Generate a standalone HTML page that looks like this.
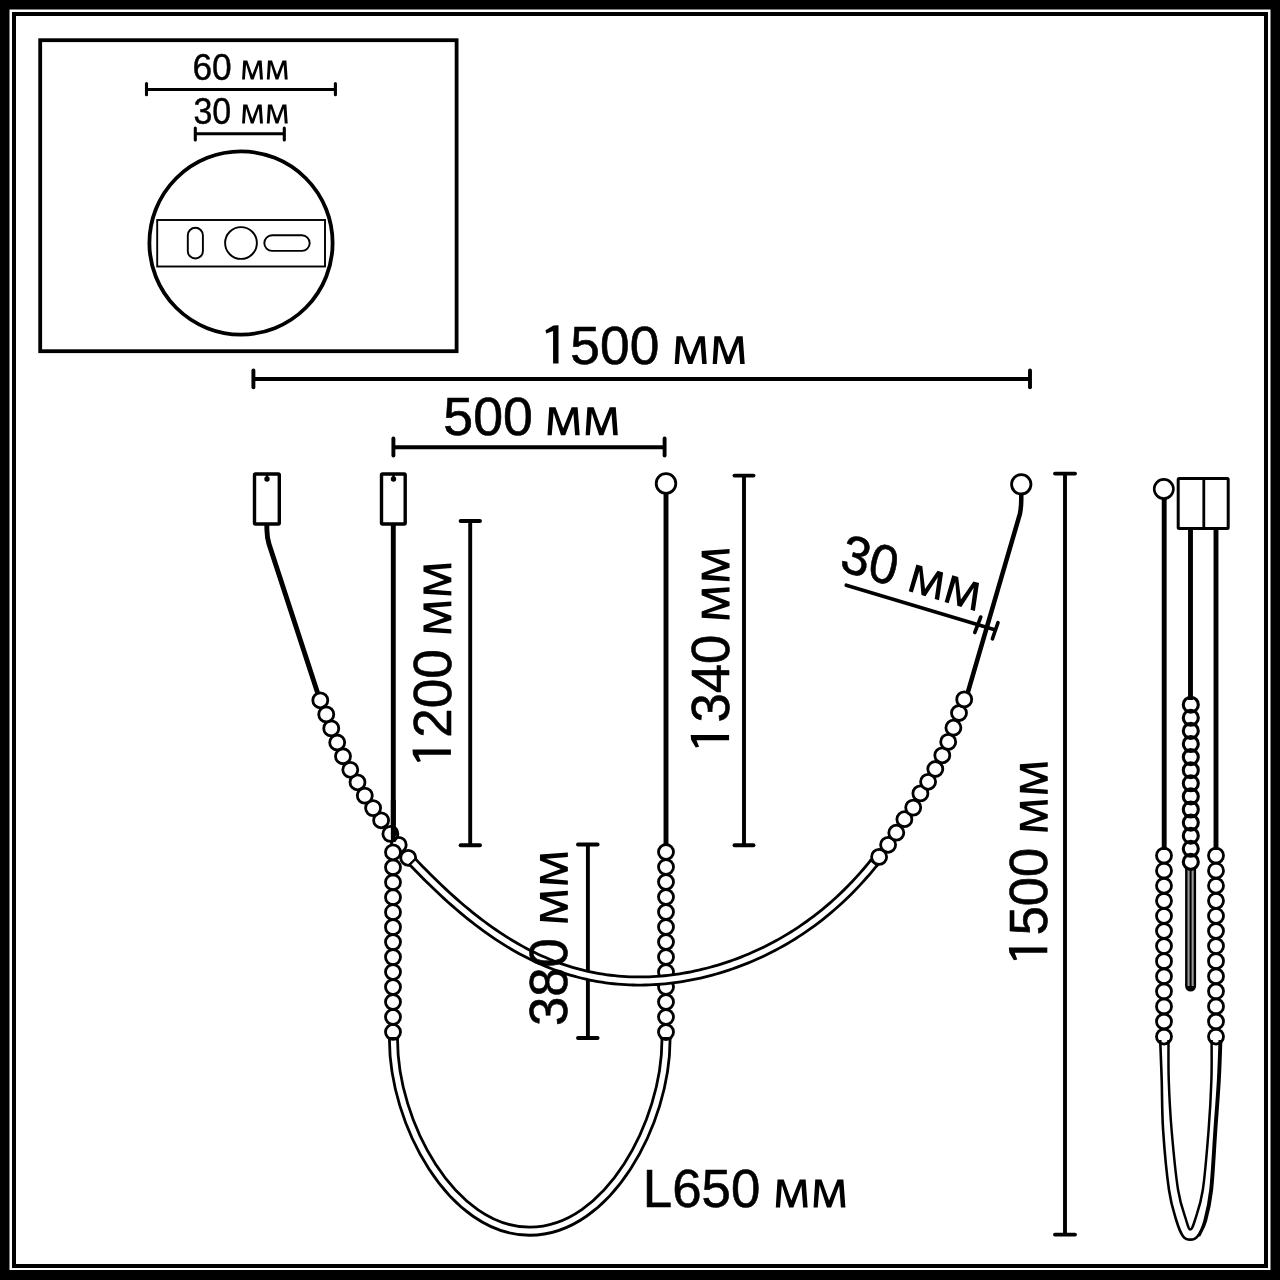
<!DOCTYPE html>
<html><head><meta charset="utf-8"><style>
html,body{margin:0;padding:0;background:#fff;}
svg{display:block;}
text{font-family:"Liberation Sans",sans-serif;fill:#000;stroke:#000;}
svg{will-change:transform;}
</style></head><body>
<svg width="1280" height="1280" viewBox="0 0 1280 1280" stroke="#000" fill="#000">
<rect x="0" y="0" width="1280" height="1280" fill="#000" stroke="none"/>
<rect x="9.5" y="9.5" width="1261" height="1260.5" fill="#fff" stroke="none"/>
<rect x="14" y="14" width="1252" height="1252" fill="none" stroke-width="4"/>
<rect x="40.2" y="40.2" width="416.4" height="311" fill="none" stroke-width="3.8"/>
<line x1="146.50" y1="89.50" x2="335.40" y2="89.50" stroke-width="3.1" stroke-linecap="butt"/>
<line x1="146.50" y1="83.50" x2="146.50" y2="94.80" stroke-width="3.1" stroke-linecap="round"/>
<line x1="335.40" y1="83.50" x2="335.40" y2="94.80" stroke-width="3.1" stroke-linecap="round"/>
<line x1="195.30" y1="133.70" x2="284.30" y2="133.70" stroke-width="3.1" stroke-linecap="butt"/>
<line x1="195.30" y1="128.00" x2="195.30" y2="140.00" stroke-width="3.1" stroke-linecap="round"/>
<line x1="284.30" y1="128.00" x2="284.30" y2="140.00" stroke-width="3.1" stroke-linecap="round"/>
<circle cx="241" cy="243" r="91.6" fill="none" stroke-width="3.8"/>
<rect x="157.2" y="220" width="167.8" height="46.5" fill="none" stroke-width="1.9"/>
<rect x="187.8" y="227.8" width="15.1" height="30.7" rx="7.55" fill="none" stroke-width="1.9"/>
<circle cx="241" cy="243" r="15.9" fill="none" stroke-width="1.9"/>
<rect x="264.3" y="235.3" width="45.4" height="15.6" rx="7.8" fill="none" stroke-width="1.9"/>
<g transform="translate(0.00,79.60)"><text x="192.41" y="0" font-size="37.6" textLength="39.27" lengthAdjust="spacingAndGlyphs" stroke-width="0.4">60</text><polygon points="242.10,0.00 243.22,-19.00 247.29,-19.00 252.28,-4.75 257.77,-19.00 261.64,-19.00 262.97,0.00 260.01,0.00 258.89,-14.90 253.60,0.00 250.86,0.00 246.07,-15.33 244.85,0.00" stroke="none"/><polygon points="266.83,0.00 267.96,-19.00 272.03,-19.00 277.02,-4.75 282.51,-19.00 286.38,-19.00 287.70,0.00 284.75,0.00 283.63,-14.90 278.34,0.00 275.59,0.00 270.80,-15.33 269.58,0.00" stroke="none"/></g>
<g transform="translate(0.00,123.50)"><text x="193.40" y="0" font-size="37.6" textLength="37.82" lengthAdjust="spacingAndGlyphs" stroke-width="0.4">30</text><polygon points="242.10,0.00 243.22,-19.00 247.29,-19.00 252.28,-4.75 257.77,-19.00 261.64,-19.00 262.97,0.00 260.01,0.00 258.89,-14.90 253.60,0.00 250.86,0.00 246.07,-15.33 244.85,0.00" stroke="none"/><polygon points="266.83,0.00 267.96,-19.00 272.03,-19.00 277.02,-4.75 282.51,-19.00 286.38,-19.00 287.70,0.00 284.75,0.00 283.63,-14.90 278.34,0.00 275.59,0.00 270.80,-15.33 269.58,0.00" stroke="none"/></g>
<line x1="253.40" y1="379.00" x2="1030.00" y2="379.00" stroke-width="3.9" stroke-linecap="butt"/>
<line x1="253.40" y1="370.50" x2="253.40" y2="387.30" stroke-width="3.9" stroke-linecap="round"/>
<line x1="1030.00" y1="370.50" x2="1030.00" y2="387.30" stroke-width="3.9" stroke-linecap="round"/>
<line x1="393.40" y1="447.30" x2="664.60" y2="447.30" stroke-width="3.9" stroke-linecap="butt"/>
<line x1="393.40" y1="438.50" x2="393.40" y2="455.50" stroke-width="3.9" stroke-linecap="round"/>
<line x1="664.60" y1="438.50" x2="664.60" y2="455.50" stroke-width="3.9" stroke-linecap="round"/>
<line x1="470.20" y1="521.00" x2="470.20" y2="845.30" stroke-width="3.9" stroke-linecap="butt"/>
<line x1="460.60" y1="521.00" x2="480.00" y2="521.00" stroke-width="3.9" stroke-linecap="round"/>
<line x1="460.60" y1="845.30" x2="480.00" y2="845.30" stroke-width="3.9" stroke-linecap="round"/>
<line x1="744.00" y1="475.60" x2="744.00" y2="845.30" stroke-width="3.9" stroke-linecap="butt"/>
<line x1="734.50" y1="475.60" x2="753.50" y2="475.60" stroke-width="3.9" stroke-linecap="round"/>
<line x1="734.50" y1="845.30" x2="753.50" y2="845.30" stroke-width="3.9" stroke-linecap="round"/>
<line x1="587.90" y1="844.50" x2="587.90" y2="1038.00" stroke-width="3.9" stroke-linecap="butt"/>
<line x1="578.00" y1="844.50" x2="597.60" y2="844.50" stroke-width="3.9" stroke-linecap="round"/>
<line x1="578.00" y1="1038.00" x2="597.60" y2="1038.00" stroke-width="3.9" stroke-linecap="round"/>
<line x1="1065.00" y1="473.60" x2="1065.00" y2="1234.60" stroke-width="3.9" stroke-linecap="butt"/>
<line x1="1055.00" y1="473.60" x2="1075.00" y2="473.60" stroke-width="3.9" stroke-linecap="round"/>
<line x1="1055.00" y1="1234.60" x2="1075.00" y2="1234.60" stroke-width="3.9" stroke-linecap="round"/>
<rect x="254.5" y="474" width="24.80000000000001" height="50" fill="#fff" stroke-width="3.4" rx="1"/>
<circle cx="267" cy="479" r="2.7" stroke="none"/><rect x="265.8" y="475" width="2.4" height="3" stroke="none"/>
<rect x="381.5" y="474" width="23.69999999999999" height="50" fill="#fff" stroke-width="3.4" rx="1"/>
<circle cx="393.5" cy="479" r="2.7" stroke="none"/><rect x="392.3" y="475" width="2.4" height="3" stroke="none"/>
<path d="M266.8,524 L266.9,530 Q267.1,538 269,544 L317.5,692.5" fill="none" stroke-width="4.9"/>
<line x1="393.30" y1="525.00" x2="393.30" y2="843.00" stroke-width="4.9" stroke-linecap="butt"/>
<line x1="666.00" y1="494.00" x2="666.00" y2="846.00" stroke-width="4.9" stroke-linecap="butt"/>
<circle cx="666" cy="483.5" r="9.8" fill="#fff" stroke-width="2.8"/>
<path d="M1021.25,494 L1021.25,500 Q1021.25,507 1019.9,514 L967.8,692.5" fill="none" stroke-width="4.5"/>
<circle cx="1021.25" cy="484.3" r="9.7" fill="#fff" stroke-width="2.8"/>
<path d="M393.5,1037.5 L393.5,1040 C393.5,1122.4 451.3,1231.2 529.75,1231.2 C608.2,1231.2 666,1122.4 666,1040 L666,1037.5" fill="none" stroke-width="10.9" stroke-linecap="butt"/>
<path d="M393.5,1037.5 L393.5,1040 C393.5,1122.4 451.3,1231.2 529.75,1231.2 C608.2,1231.2 666,1122.4 666,1040 L666,1037.5" fill="none" stroke="#fff" stroke-width="5.3" stroke-linecap="butt"/>
<circle cx="398.70" cy="844.90" r="7.5" fill="#fff" stroke-width="2.8"/>
<circle cx="390.40" cy="833.90" r="7.5" fill="#fff" stroke-width="2.8"/>
<circle cx="381.10" cy="820.30" r="7.5" fill="#fff" stroke-width="2.8"/>
<circle cx="373.10" cy="808.10" r="7.5" fill="#fff" stroke-width="2.8"/>
<circle cx="364.80" cy="795.60" r="7.5" fill="#fff" stroke-width="2.8"/>
<circle cx="357.50" cy="782.30" r="7.5" fill="#fff" stroke-width="2.8"/>
<circle cx="350.30" cy="769.80" r="7.5" fill="#fff" stroke-width="2.8"/>
<circle cx="343.00" cy="756.25" r="7.5" fill="#fff" stroke-width="2.8"/>
<circle cx="337.20" cy="742.50" r="7.5" fill="#fff" stroke-width="2.8"/>
<circle cx="331.25" cy="728.40" r="7.5" fill="#fff" stroke-width="2.8"/>
<circle cx="326.25" cy="714.40" r="7.5" fill="#fff" stroke-width="2.8"/>
<circle cx="320.30" cy="700.30" r="7.5" fill="#fff" stroke-width="2.8"/>
<circle cx="393.00" cy="1031.94" r="7.5" fill="none" stroke-width="2.8"/>
<circle cx="393.00" cy="1016.97" r="7.5" fill="none" stroke-width="2.8"/>
<circle cx="393.00" cy="1002.00" r="7.5" fill="none" stroke-width="2.8"/>
<circle cx="393.00" cy="987.03" r="7.5" fill="none" stroke-width="2.8"/>
<circle cx="393.00" cy="972.06" r="7.5" fill="none" stroke-width="2.8"/>
<circle cx="393.00" cy="957.09" r="7.5" fill="none" stroke-width="2.8"/>
<circle cx="393.00" cy="942.12" r="7.5" fill="none" stroke-width="2.8"/>
<circle cx="393.00" cy="927.15" r="7.5" fill="none" stroke-width="2.8"/>
<circle cx="393.00" cy="912.18" r="7.5" fill="none" stroke-width="2.8"/>
<circle cx="393.00" cy="897.21" r="7.5" fill="none" stroke-width="2.8"/>
<circle cx="393.00" cy="882.24" r="7.5" fill="none" stroke-width="2.8"/>
<circle cx="393.00" cy="867.27" r="7.5" fill="none" stroke-width="2.8"/>
<circle cx="393.00" cy="852.30" r="7.5" fill="#fff" stroke-width="2.8"/>
<circle cx="408.20" cy="857.80" r="7.5" fill="#fff" stroke-width="2.8"/>
<circle cx="879.10" cy="856.90" r="7.5" fill="#fff" stroke-width="2.8"/>
<circle cx="888.10" cy="844.80" r="7.5" fill="#fff" stroke-width="2.8"/>
<circle cx="896.30" cy="832.70" r="7.5" fill="#fff" stroke-width="2.8"/>
<circle cx="904.40" cy="819.20" r="7.5" fill="#fff" stroke-width="2.8"/>
<circle cx="913.20" cy="807.60" r="7.5" fill="#fff" stroke-width="2.8"/>
<circle cx="920.40" cy="793.40" r="7.5" fill="#fff" stroke-width="2.8"/>
<circle cx="928.10" cy="781.80" r="7.5" fill="#fff" stroke-width="2.8"/>
<circle cx="935.30" cy="769.00" r="7.5" fill="#fff" stroke-width="2.8"/>
<circle cx="942.30" cy="755.30" r="7.5" fill="#fff" stroke-width="2.8"/>
<circle cx="948.20" cy="741.90" r="7.5" fill="#fff" stroke-width="2.8"/>
<circle cx="953.40" cy="727.70" r="7.5" fill="#fff" stroke-width="2.8"/>
<circle cx="959.00" cy="713.00" r="7.5" fill="#fff" stroke-width="2.8"/>
<circle cx="964.20" cy="699.40" r="7.5" fill="#fff" stroke-width="2.8"/>
<circle cx="666.00" cy="852.00" r="7.5" fill="none" stroke-width="2.8"/>
<circle cx="666.00" cy="867.00" r="7.5" fill="none" stroke-width="2.8"/>
<circle cx="666.00" cy="882.00" r="7.5" fill="none" stroke-width="2.8"/>
<circle cx="666.00" cy="897.00" r="7.5" fill="none" stroke-width="2.8"/>
<circle cx="666.00" cy="912.00" r="7.5" fill="none" stroke-width="2.8"/>
<circle cx="666.00" cy="927.00" r="7.5" fill="none" stroke-width="2.8"/>
<circle cx="666.00" cy="942.00" r="7.5" fill="none" stroke-width="2.8"/>
<circle cx="666.00" cy="957.00" r="7.5" fill="none" stroke-width="2.8"/>
<circle cx="666.00" cy="972.00" r="7.5" fill="none" stroke-width="2.8"/>
<circle cx="666.00" cy="987.00" r="7.5" fill="none" stroke-width="2.8"/>
<circle cx="666.00" cy="1002.00" r="7.5" fill="none" stroke-width="2.8"/>
<circle cx="666.00" cy="1017.00" r="7.5" fill="none" stroke-width="2.8"/>
<circle cx="666.00" cy="1032.00" r="7.5" fill="none" stroke-width="2.8"/>
<line x1="388.05" y1="1038.20" x2="398.95" y2="1038.20" stroke-width="2.4" stroke-linecap="butt"/>
<line x1="660.55" y1="1038.20" x2="671.45" y2="1038.20" stroke-width="2.4" stroke-linecap="butt"/>
<line x1="393.30" y1="800.00" x2="393.30" y2="842.00" stroke-width="4.9" stroke-linecap="butt"/>
<ellipse cx="394.6" cy="831.5" rx="3.6" ry="4.2" stroke="none"/>
<path d="M411.90,861.12 L415.79,865.20 L419.68,869.22 L423.56,873.18 L427.45,877.08 L431.34,880.92 L435.23,884.70 L439.12,888.42 L443.01,892.07 L446.89,895.66 L450.78,899.17 L454.67,902.62 L458.56,906.00 L462.45,909.30 L466.34,912.54 L470.22,915.70 L474.11,918.78 L478.00,921.80 L481.89,924.73 L485.78,927.59 L489.66,930.38 L493.55,933.09 L497.44,935.72 L501.33,938.27 L505.22,940.75 L509.11,943.15 L512.99,945.48 L516.88,947.72 L520.77,949.89 L524.66,951.98 L528.55,954.00 L532.44,955.94 L536.32,957.80 L540.21,959.59 L544.10,961.30 L547.99,962.93 L551.88,964.49 L555.76,965.98 L559.65,967.39 L563.54,968.73 L567.43,969.99 L571.32,971.18 L575.21,972.31 L579.09,973.36 L582.98,974.34 L586.87,975.24 L590.76,976.09 L594.65,976.86 L598.54,977.56 L602.42,978.20 L606.31,978.77 L610.20,979.27 L614.09,979.71 L617.98,980.09 L621.86,980.40 L625.75,980.65 L629.64,980.83 L633.53,980.96 L637.42,981.02 L641.31,981.02 L645.19,980.97 L649.08,980.85 L652.97,980.67 L656.86,980.44 L660.75,980.14 L664.64,979.79 L668.52,979.38 L672.41,978.92 L676.30,978.39 L680.19,977.81 L684.08,977.18 L687.96,976.49 L691.85,975.74 L695.74,974.94 L699.63,974.08 L703.52,973.17 L707.41,972.19 L711.29,971.17 L715.18,970.08 L719.07,968.94 L722.96,967.75 L726.85,966.49 L730.74,965.18 L734.62,963.80 L738.51,962.37 L742.40,960.88 L746.29,959.33 L750.18,957.71 L754.06,956.03 L757.95,954.29 L761.84,952.48 L765.73,950.61 L769.62,948.66 L773.51,946.65 L777.39,944.57 L781.28,942.41 L785.17,940.17 L789.06,937.86 L792.95,935.48 L796.84,933.01 L800.72,930.45 L804.61,927.81 L808.50,925.08 L812.39,922.26 L816.28,919.35 L820.16,916.34 L824.05,913.23 L827.94,910.02 L831.83,906.70 L835.72,903.26 L839.61,899.72 L843.49,896.06 L847.38,892.28 L851.27,888.37 L855.16,884.33 L859.05,880.15 L862.94,875.84 L866.82,871.39 L870.71,866.78 L874.60,862.03" fill="none" stroke-width="10.9" stroke-linecap="butt"/>
<path d="M411.90,861.12 L415.79,865.20 L419.68,869.22 L423.56,873.18 L427.45,877.08 L431.34,880.92 L435.23,884.70 L439.12,888.42 L443.01,892.07 L446.89,895.66 L450.78,899.17 L454.67,902.62 L458.56,906.00 L462.45,909.30 L466.34,912.54 L470.22,915.70 L474.11,918.78 L478.00,921.80 L481.89,924.73 L485.78,927.59 L489.66,930.38 L493.55,933.09 L497.44,935.72 L501.33,938.27 L505.22,940.75 L509.11,943.15 L512.99,945.48 L516.88,947.72 L520.77,949.89 L524.66,951.98 L528.55,954.00 L532.44,955.94 L536.32,957.80 L540.21,959.59 L544.10,961.30 L547.99,962.93 L551.88,964.49 L555.76,965.98 L559.65,967.39 L563.54,968.73 L567.43,969.99 L571.32,971.18 L575.21,972.31 L579.09,973.36 L582.98,974.34 L586.87,975.24 L590.76,976.09 L594.65,976.86 L598.54,977.56 L602.42,978.20 L606.31,978.77 L610.20,979.27 L614.09,979.71 L617.98,980.09 L621.86,980.40 L625.75,980.65 L629.64,980.83 L633.53,980.96 L637.42,981.02 L641.31,981.02 L645.19,980.97 L649.08,980.85 L652.97,980.67 L656.86,980.44 L660.75,980.14 L664.64,979.79 L668.52,979.38 L672.41,978.92 L676.30,978.39 L680.19,977.81 L684.08,977.18 L687.96,976.49 L691.85,975.74 L695.74,974.94 L699.63,974.08 L703.52,973.17 L707.41,972.19 L711.29,971.17 L715.18,970.08 L719.07,968.94 L722.96,967.75 L726.85,966.49 L730.74,965.18 L734.62,963.80 L738.51,962.37 L742.40,960.88 L746.29,959.33 L750.18,957.71 L754.06,956.03 L757.95,954.29 L761.84,952.48 L765.73,950.61 L769.62,948.66 L773.51,946.65 L777.39,944.57 L781.28,942.41 L785.17,940.17 L789.06,937.86 L792.95,935.48 L796.84,933.01 L800.72,930.45 L804.61,927.81 L808.50,925.08 L812.39,922.26 L816.28,919.35 L820.16,916.34 L824.05,913.23 L827.94,910.02 L831.83,906.70 L835.72,903.26 L839.61,899.72 L843.49,896.06 L847.38,892.28 L851.27,888.37 L855.16,884.33 L859.05,880.15 L862.94,875.84 L866.82,871.39 L870.71,866.78 L874.60,862.03" fill="none" stroke="#fff" stroke-width="5.3" stroke-linecap="butt"/>
<line x1="408.55" y1="865.51" x2="416.45" y2="858.00" stroke-width="2.4"/>
<line x1="878.24" y1="866.20" x2="869.76" y2="859.35" stroke-width="2.4"/>
<line x1="1164.20" y1="499.00" x2="1164.20" y2="850.00" stroke-width="4.9" stroke-linecap="butt"/>
<circle cx="1163.8" cy="489" r="9.6" fill="#fff" stroke-width="2.6"/>
<rect x="1178.2" y="478.6" width="50" height="50" fill="#fff" stroke-width="3" rx="1"/>
<line x1="1203.80" y1="478.60" x2="1203.80" y2="528.60" stroke-width="2.8" stroke-linecap="butt"/>
<line x1="1190.50" y1="529.00" x2="1190.50" y2="700.00" stroke-width="4.9" stroke-linecap="butt"/>
<line x1="1216.00" y1="529.00" x2="1216.00" y2="850.00" stroke-width="4.9" stroke-linecap="butt"/>
<path d="M1190.6,868 L1190.6,986" fill="none" stroke-width="11" stroke-linecap="butt"/>
<path d="M1190.6,986 L1190.6,986.1" fill="none" stroke-width="11" stroke-linecap="round"/>
<path d="M1190.6,868.5 L1190.6,986" fill="none" stroke="#999" stroke-width="6.2" stroke-linecap="butt"/>
<path d="M1190.6,868 L1190.6,987" fill="none" stroke-width="2" stroke-linecap="butt"/>
<circle cx="1190.80" cy="704.70" r="7.5" fill="none" stroke-width="3.1"/>
<circle cx="1190.80" cy="717.80" r="7.5" fill="none" stroke-width="3.1"/>
<circle cx="1190.80" cy="730.90" r="7.5" fill="none" stroke-width="3.1"/>
<circle cx="1190.80" cy="744.00" r="7.5" fill="none" stroke-width="3.1"/>
<circle cx="1190.80" cy="757.10" r="7.5" fill="none" stroke-width="3.1"/>
<circle cx="1190.80" cy="770.20" r="7.5" fill="none" stroke-width="3.1"/>
<circle cx="1190.80" cy="783.30" r="7.5" fill="none" stroke-width="3.1"/>
<circle cx="1190.80" cy="796.40" r="7.5" fill="none" stroke-width="3.1"/>
<circle cx="1190.80" cy="809.50" r="7.5" fill="none" stroke-width="3.1"/>
<circle cx="1190.80" cy="822.60" r="7.5" fill="none" stroke-width="3.1"/>
<circle cx="1190.80" cy="835.70" r="7.5" fill="none" stroke-width="3.1"/>
<circle cx="1190.80" cy="848.80" r="7.5" fill="none" stroke-width="3.1"/>
<circle cx="1190.80" cy="861.90" r="7.5" fill="none" stroke-width="3.1"/>
<path d="M1160.20,1040.00 C1160.45,1046.67 1161.22,1065.00 1161.70,1080.00 C1162.18,1095.00 1161.88,1111.67 1163.10,1130.00 C1164.32,1148.33 1166.82,1175.00 1169.00,1190.00 C1171.18,1205.00 1173.87,1212.30 1176.20,1220.00 C1178.53,1227.70 1180.65,1232.93 1183.00,1236.20 C1185.35,1239.47 1187.87,1239.60 1190.30,1239.60 C1192.73,1239.60 1195.23,1239.30 1197.60,1236.20 C1199.97,1233.10 1202.35,1228.70 1204.50,1221.00 C1206.65,1213.30 1208.80,1205.17 1210.50,1190.00 C1212.20,1174.83 1213.42,1148.33 1214.70,1130.00 C1215.98,1111.67 1217.35,1095.00 1218.20,1080.00 C1219.05,1065.00 1219.53,1046.67 1219.80,1040.00" fill="none" stroke-width="2.6"/>
<path d="M1168.50,1040.00 C1168.54,1046.67 1168.23,1065.00 1168.75,1080.00 C1169.27,1095.00 1170.04,1111.67 1171.60,1130.00 C1173.16,1148.33 1175.68,1175.00 1178.10,1190.00 C1180.52,1205.00 1184.07,1213.40 1186.10,1220.00 C1188.13,1226.60 1188.82,1229.60 1190.30,1229.60 C1191.78,1229.60 1192.92,1226.60 1195.00,1220.00 C1197.08,1213.40 1200.53,1205.00 1202.80,1190.00 C1205.07,1175.00 1207.17,1148.33 1208.60,1130.00 C1210.03,1111.67 1210.90,1095.00 1211.40,1080.00 C1211.90,1065.00 1211.57,1046.67 1211.60,1040.00" fill="none" stroke-width="2.5"/>
<path d="M1198.90,1236.20 C1200.05,1233.67 1203.65,1228.70 1205.80,1221.00 C1207.95,1213.30 1210.10,1205.17 1211.80,1190.00 C1213.50,1174.83 1214.72,1148.33 1216.00,1130.00 C1217.28,1111.67 1218.65,1095.00 1219.50,1080.00 C1220.35,1065.00 1220.83,1046.67 1221.10,1040.00" fill="none" stroke-width="2.6"/>
<circle cx="1164.00" cy="855.60" r="7.5" fill="none" stroke-width="2.8"/>
<circle cx="1164.00" cy="870.68" r="7.5" fill="none" stroke-width="2.8"/>
<circle cx="1164.00" cy="885.76" r="7.5" fill="none" stroke-width="2.8"/>
<circle cx="1164.00" cy="900.84" r="7.5" fill="none" stroke-width="2.8"/>
<circle cx="1164.00" cy="915.92" r="7.5" fill="none" stroke-width="2.8"/>
<circle cx="1164.00" cy="931.00" r="7.5" fill="none" stroke-width="2.8"/>
<circle cx="1164.00" cy="946.08" r="7.5" fill="none" stroke-width="2.8"/>
<circle cx="1164.00" cy="961.16" r="7.5" fill="none" stroke-width="2.8"/>
<circle cx="1164.00" cy="976.24" r="7.5" fill="none" stroke-width="2.8"/>
<circle cx="1164.00" cy="991.32" r="7.5" fill="none" stroke-width="2.8"/>
<circle cx="1164.00" cy="1006.40" r="7.5" fill="none" stroke-width="2.8"/>
<circle cx="1164.00" cy="1021.48" r="7.5" fill="none" stroke-width="2.8"/>
<circle cx="1164.00" cy="1036.56" r="7.5" fill="none" stroke-width="2.8"/>
<circle cx="1216.00" cy="855.60" r="7.5" fill="none" stroke-width="2.8"/>
<circle cx="1216.00" cy="870.68" r="7.5" fill="none" stroke-width="2.8"/>
<circle cx="1216.00" cy="885.76" r="7.5" fill="none" stroke-width="2.8"/>
<circle cx="1216.00" cy="900.84" r="7.5" fill="none" stroke-width="2.8"/>
<circle cx="1216.00" cy="915.92" r="7.5" fill="none" stroke-width="2.8"/>
<circle cx="1216.00" cy="931.00" r="7.5" fill="none" stroke-width="2.8"/>
<circle cx="1216.00" cy="946.08" r="7.5" fill="none" stroke-width="2.8"/>
<circle cx="1216.00" cy="961.16" r="7.5" fill="none" stroke-width="2.8"/>
<circle cx="1216.00" cy="976.24" r="7.5" fill="none" stroke-width="2.8"/>
<circle cx="1216.00" cy="991.32" r="7.5" fill="none" stroke-width="2.8"/>
<circle cx="1216.00" cy="1006.40" r="7.5" fill="none" stroke-width="2.8"/>
<circle cx="1216.00" cy="1021.48" r="7.5" fill="none" stroke-width="2.8"/>
<circle cx="1216.00" cy="1036.56" r="7.5" fill="none" stroke-width="2.8"/>
<g transform="translate(0.00,363.60)"><polygon points="545.50,-33.40 553.38,-38.00 558.50,-38.40 558.50,0.00 553.08,0.00 553.08,-32.60 546.27,-30.00" stroke="none"/><text x="570.36" y="0" font-size="54.2" textLength="89.02" lengthAdjust="spacingAndGlyphs" stroke-width="0.6">500</text><polygon points="674.70,0.45 676.42,-27.45 682.67,-27.45 690.33,-6.52 698.76,-27.45 704.70,-27.45 706.73,0.45 702.20,0.45 700.48,-21.42 692.36,0.45 688.14,0.45 680.79,-22.06 678.92,0.45" stroke="none"/><polygon points="712.67,0.45 714.39,-27.45 720.64,-27.45 728.30,-6.52 736.73,-27.45 742.67,-27.45 744.70,0.45 740.17,0.45 738.45,-21.42 730.33,0.45 726.11,0.45 718.76,-22.06 716.89,0.45" stroke="none"/></g>
<g transform="translate(0.00,434.70)"><text x="443.35" y="0" font-size="54.2" textLength="89.55" lengthAdjust="spacingAndGlyphs" stroke-width="0.6">500</text><polygon points="547.50,0.45 549.23,-27.45 555.50,-27.45 563.20,-6.52 571.66,-27.45 577.63,-27.45 579.67,0.45 575.12,0.45 573.39,-21.42 565.24,0.45 561.00,0.45 553.62,-22.06 551.74,0.45" stroke="none"/><polygon points="585.63,0.45 587.36,-27.45 593.64,-27.45 601.33,-6.52 609.80,-27.45 615.76,-27.45 617.80,0.45 613.25,0.45 611.52,-21.42 603.37,0.45 599.13,0.45 591.75,-22.06 589.87,0.45" stroke="none"/></g>
<g transform="translate(0.00,1207.00)"><text x="642.87" y="0" font-size="54.2" textLength="117.50" lengthAdjust="spacingAndGlyphs" stroke-width="0.6">L650</text><polygon points="775.80,0.45 777.51,-27.45 783.72,-27.45 791.34,-6.52 799.72,-27.45 805.63,-27.45 807.65,0.45 803.14,0.45 801.43,-21.42 793.36,0.45 789.16,0.45 781.86,-22.06 780.00,0.45" stroke="none"/><polygon points="813.55,0.45 815.26,-27.45 821.48,-27.45 829.09,-6.52 837.48,-27.45 843.38,-27.45 845.40,0.45 840.90,0.45 839.19,-21.42 831.11,0.45 826.92,0.45 819.61,-22.06 817.75,0.45" stroke="none"/></g>
<g transform="translate(450.90,762.30) rotate(-90)"><polygon points="0.20,-33.40 7.84,-38.00 12.80,-38.40 12.80,0.00 7.54,0.00 7.54,-32.60 0.94,-30.00" stroke="none"/><text x="24.53" y="0" font-size="54.2" textLength="88.44" lengthAdjust="spacingAndGlyphs" stroke-width="0.6">200</text><polygon points="128.80,0.45 130.52,-27.45 136.77,-27.45 144.43,-6.52 152.86,-27.45 158.80,-27.45 160.83,0.45 156.30,0.45 154.58,-21.42 146.46,0.45 142.24,0.45 134.89,-22.06 133.02,0.45" stroke="none"/><polygon points="166.77,0.45 168.49,-27.45 174.74,-27.45 182.40,-6.52 190.83,-27.45 196.77,-27.45 198.80,0.45 194.27,0.45 192.55,-21.42 184.43,0.45 180.21,0.45 172.86,-22.06 170.99,0.45" stroke="none"/></g>
<g transform="translate(729.10,747.70) rotate(-90)"><polygon points="0.20,-33.40 7.84,-38.00 12.80,-38.40 12.80,0.00 7.54,0.00 7.54,-32.60 0.94,-30.00" stroke="none"/><text x="25.19" y="0" font-size="54.2" textLength="87.86" lengthAdjust="spacingAndGlyphs" stroke-width="0.6">340</text><polygon points="128.30,0.45 130.03,-27.45 136.32,-27.45 144.02,-6.52 152.50,-27.45 158.47,-27.45 160.51,0.45 155.96,0.45 154.23,-21.42 146.06,0.45 141.82,0.45 134.42,-22.06 132.54,0.45" stroke="none"/><polygon points="166.49,0.45 168.22,-27.45 174.50,-27.45 182.21,-6.52 190.68,-27.45 196.66,-27.45 198.70,0.45 194.14,0.45 192.41,-21.42 184.25,0.45 180.00,0.45 172.61,-22.06 170.73,0.45" stroke="none"/></g>
<g transform="translate(567.40,1024.40) rotate(-90)"><text x="-1.71" y="0" font-size="54.2" textLength="87.86" lengthAdjust="spacingAndGlyphs" stroke-width="0.6">380</text><polygon points="101.60,0.45 103.33,-27.45 109.60,-27.45 117.30,-6.52 125.76,-27.45 131.73,-27.45 133.77,0.45 129.22,0.45 127.49,-21.42 119.34,0.45 115.10,0.45 107.72,-22.06 105.84,0.45" stroke="none"/><polygon points="139.73,0.45 141.46,-27.45 147.74,-27.45 155.43,-6.52 163.90,-27.45 169.86,-27.45 171.90,0.45 167.35,0.45 165.62,-21.42 157.47,0.45 153.23,0.45 145.85,-22.06 143.97,0.45" stroke="none"/></g>
<g transform="translate(1047.30,960.40) rotate(-90)"><polygon points="0.20,-33.40 7.84,-38.00 12.80,-38.40 12.80,0.00 7.54,0.00 7.54,-32.60 0.94,-30.00" stroke="none"/><text x="25.10" y="0" font-size="54.2" textLength="87.45" lengthAdjust="spacingAndGlyphs" stroke-width="0.6">500</text><polygon points="128.70,0.45 130.41,-27.45 136.61,-27.45 144.22,-6.52 152.59,-27.45 158.49,-27.45 160.50,0.45 156.00,0.45 154.30,-21.42 146.23,0.45 142.04,0.45 134.75,-22.06 132.89,0.45" stroke="none"/><polygon points="166.40,0.45 168.11,-27.45 174.31,-27.45 181.92,-6.52 190.29,-27.45 196.18,-27.45 198.20,0.45 193.70,0.45 191.99,-21.42 183.93,0.45 179.74,0.45 172.45,-22.06 170.59,0.45" stroke="none"/></g>
<g transform="matrix(0.95882,0.28402,-0.21644,0.97630,840.00,570.50)"><text x="-1.67" y="0" font-size="54.2" textLength="57.59" lengthAdjust="spacingAndGlyphs" stroke-width="0.6">30</text><polygon points="71.80,0.45 73.50,-27.45 79.66,-27.45 87.21,-6.52 95.52,-27.45 101.37,-27.45 103.37,0.45 98.91,0.45 97.21,-21.42 89.21,0.45 85.05,0.45 77.80,-22.06 75.96,0.45" stroke="none"/><polygon points="109.23,0.45 110.92,-27.45 117.08,-27.45 124.63,-6.52 132.94,-27.45 138.80,-27.45 140.80,0.45 136.33,0.45 134.64,-21.42 126.64,0.45 122.48,0.45 115.23,-22.06 113.39,0.45" stroke="none"/></g>
<line x1="846.25" y1="585.20" x2="994.80" y2="629.70" stroke-width="3.6" stroke-linecap="round"/>
<line x1="980.75" y1="617.00" x2="974.80" y2="632.50" stroke-width="3.6" stroke-linecap="round"/>
<line x1="998.00" y1="622.70" x2="992.40" y2="638.80" stroke-width="3.6" stroke-linecap="round"/>
</svg>
</body></html>
